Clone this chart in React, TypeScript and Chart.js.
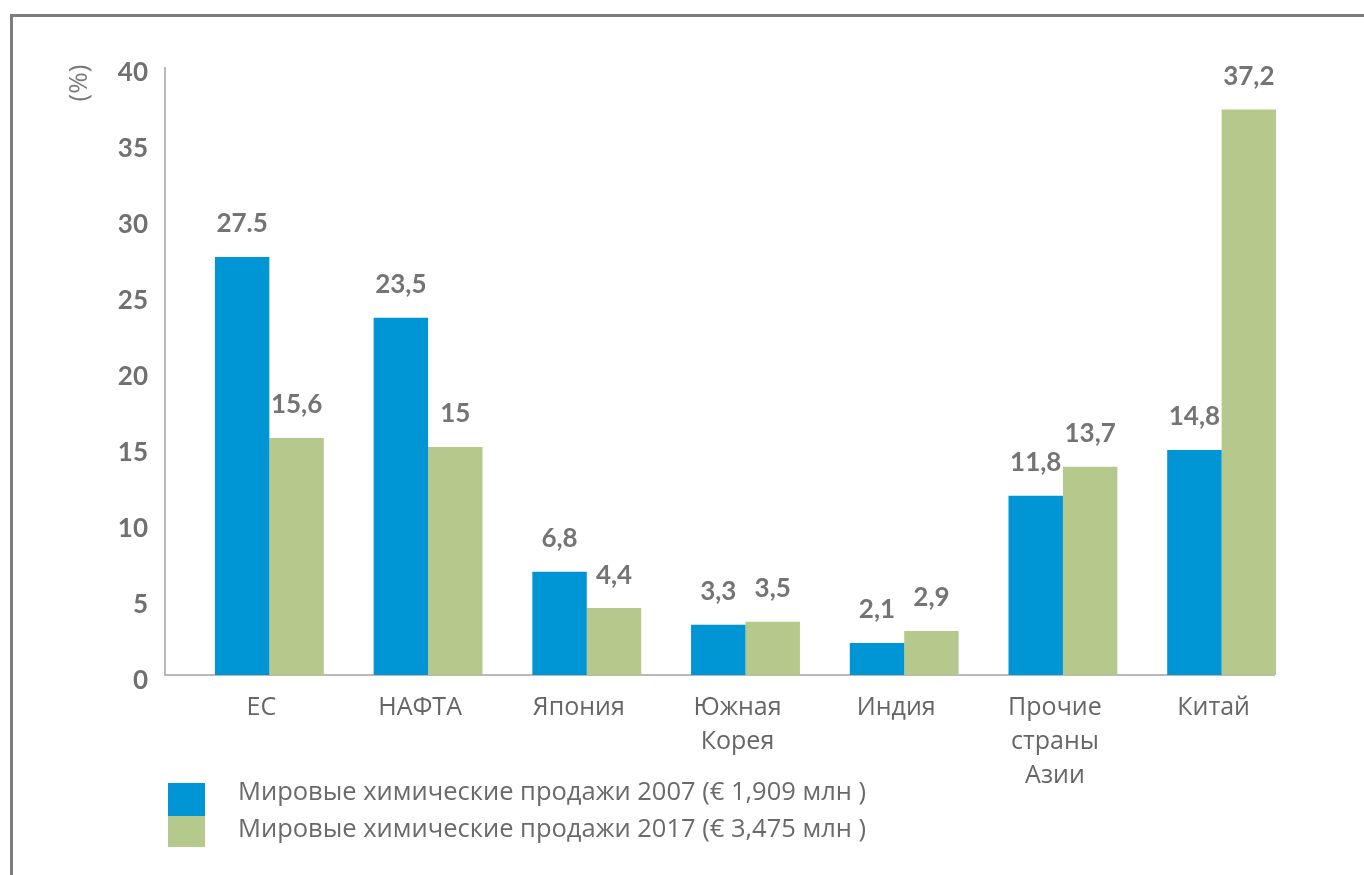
import React, { useEffect, useRef } from "react";
import { Chart, registerables } from "chart.js";

Chart.register(...registerables);

const categories: (string | string[])[] = [
  "ЕС",
  "НАФТА",
  "Япония",
  ["Южная", "Корея"],
  "Индия",
  ["Прочие", "страны", "Азии"],
  "Китай",
];
const sales2007 = [27.5, 23.5, 6.8, 3.3, 2.1, 11.8, 14.8];
const sales2017 = [15.6, 15, 4.4, 3.5, 2.9, 13.7, 37.2];
const labels2007 = ["27.5", "23,5", "6,8", "3,3", "2,1", "11,8", "14,8"];
const labels2017 = ["15,6", "15", "4,4", "3,5", "2,9", "13,7", "37,2"];
const seriesNames = [
  "Мировые химические продажи 2007 (€ 1,909 млн )",
  "Мировые химические продажи 2017 (€ 3,475 млн )",
];
const yMin = 0;
const yMax = 40;
const yStep = 5;
const yAxisTitle = "(%)";

const BLUE = "#0096d6";
const GREEN = "#b4c98b";
const valueLabels = [labels2007, labels2017];

const decorPlugin = {
  id: "decor",
  beforeDatasetsDraw(chart: any) {
    const ctx = chart.ctx;
    const ys = chart.scales.y;
    const y0 = ys.getPixelForValue(yMin);
    const yTop = ys.getPixelForValue(yMax);
    ctx.save();
    ctx.strokeStyle = "#b9b9b9";
    ctx.lineWidth = 2;
    ctx.beginPath();
    ctx.moveTo(165, yTop);
    ctx.lineTo(165, y0);
    ctx.lineTo(1275, y0);
    ctx.stroke();
    ctx.restore();
  },
  afterDraw(chart: any) {
    const ctx = chart.ctx;
    ctx.save();
    // frame
    ctx.fillStyle = "#7d7d7d";
    ctx.fillRect(10, 14, 1354, 3);
    ctx.fillRect(10, 14, 3, 861);

    // value labels
    ctx.font = "bold 26px Lato";
    ctx.fillStyle = "#747474";
    ctx.textAlign = "center";
    ctx.textBaseline = "middle";
    chart.data.datasets.forEach((ds: any, di: number) => {
      const meta = chart.getDatasetMeta(di);
      meta.data.forEach((el: any, i: number) => {
        ctx.fillText(valueLabels[di][i], el.x, el.y - 33);
      });
    });

    // axis title
    ctx.save();
    ctx.translate(80, 83);
    ctx.rotate(-Math.PI / 2);
    ctx.font = "26px 'Open Sans'";
    ctx.fillStyle = "#7a7a7a";
    ctx.textAlign = "center";
    ctx.textBaseline = "middle";
    ctx.fillText(yAxisTitle, 0, 0);
    ctx.restore();

    // legend
    const colors = [BLUE, GREEN];
    const boxY = [783, 816];
    const boxH = [33, 31];
    const textY = [793, 830];
    ctx.font = "25.5px 'Open Sans'";
    ctx.textAlign = "left";
    ctx.textBaseline = "middle";
    seriesNames.forEach((name, i) => {
      ctx.fillStyle = colors[i];
      ctx.fillRect(168, boxY[i], 37, boxH[i]);
      ctx.fillStyle = "#6a6a6a";
      ctx.fillText(name, 238, textY[i]);
    });
    ctx.restore();
  },
};

export default function App() {
  const ref = useRef<HTMLCanvasElement | null>(null);
  useEffect(() => {
    if (!ref.current) return;
    const chart = new Chart(ref.current, {
      type: "bar",
      data: {
        labels: categories,
        datasets: [
          {
            label: seriesNames[0],
            data: sales2007,
            backgroundColor: BLUE,
            borderWidth: 0,
            categoryPercentage: 0.686,
            barPercentage: 1,
          },
          {
            label: seriesNames[1],
            data: sales2017,
            backgroundColor: GREEN,
            borderWidth: 0,
            categoryPercentage: 0.686,
            barPercentage: 1,
          },
        ],
      },
      options: {
        responsive: false,
        animation: false,
        layout: { padding: { top: 67, right: 63, left: 0, bottom: 0 } },
        plugins: {
          legend: { display: false },
          tooltip: { enabled: false },
          title: { display: false },
        },
        scales: {
          x: {
            grid: { display: false, drawTicks: false },
            border: { display: false },
            ticks: {
              autoSkip: false,
              maxRotation: 0,
              minRotation: 0,
              padding: 16,
              labelOffset: -8,
              color: "#666666",
              font: { family: "'Open Sans'", size: 25, lineHeight: "34px" },
            },
            afterFit: (scale: any) => {
              scale.height = 200;
            },
          },
          y: {
            min: yMin,
            max: yMax,
            grid: { display: false, drawTicks: false },
            border: { display: false },
            ticks: {
              stepSize: yStep,
              padding: 42,
              labelOffset: 6,
              color: "#707070",
              font: { family: "Lato", weight: "bold", size: 26 },
            },
            afterFit: (scale: any) => {
              scale.width = 190;
            },
          },
        },
      },
      plugins: [decorPlugin],
    } as any);
    return () => chart.destroy();
  }, []);

  return (
    <div style={{ position: "absolute", left: 0, top: 0, width: 1364, height: 875, background: "#fff" }}>
      <canvas ref={ref} width={1364} height={875} style={{ display: "block" }} />
    </div>
  );
}
